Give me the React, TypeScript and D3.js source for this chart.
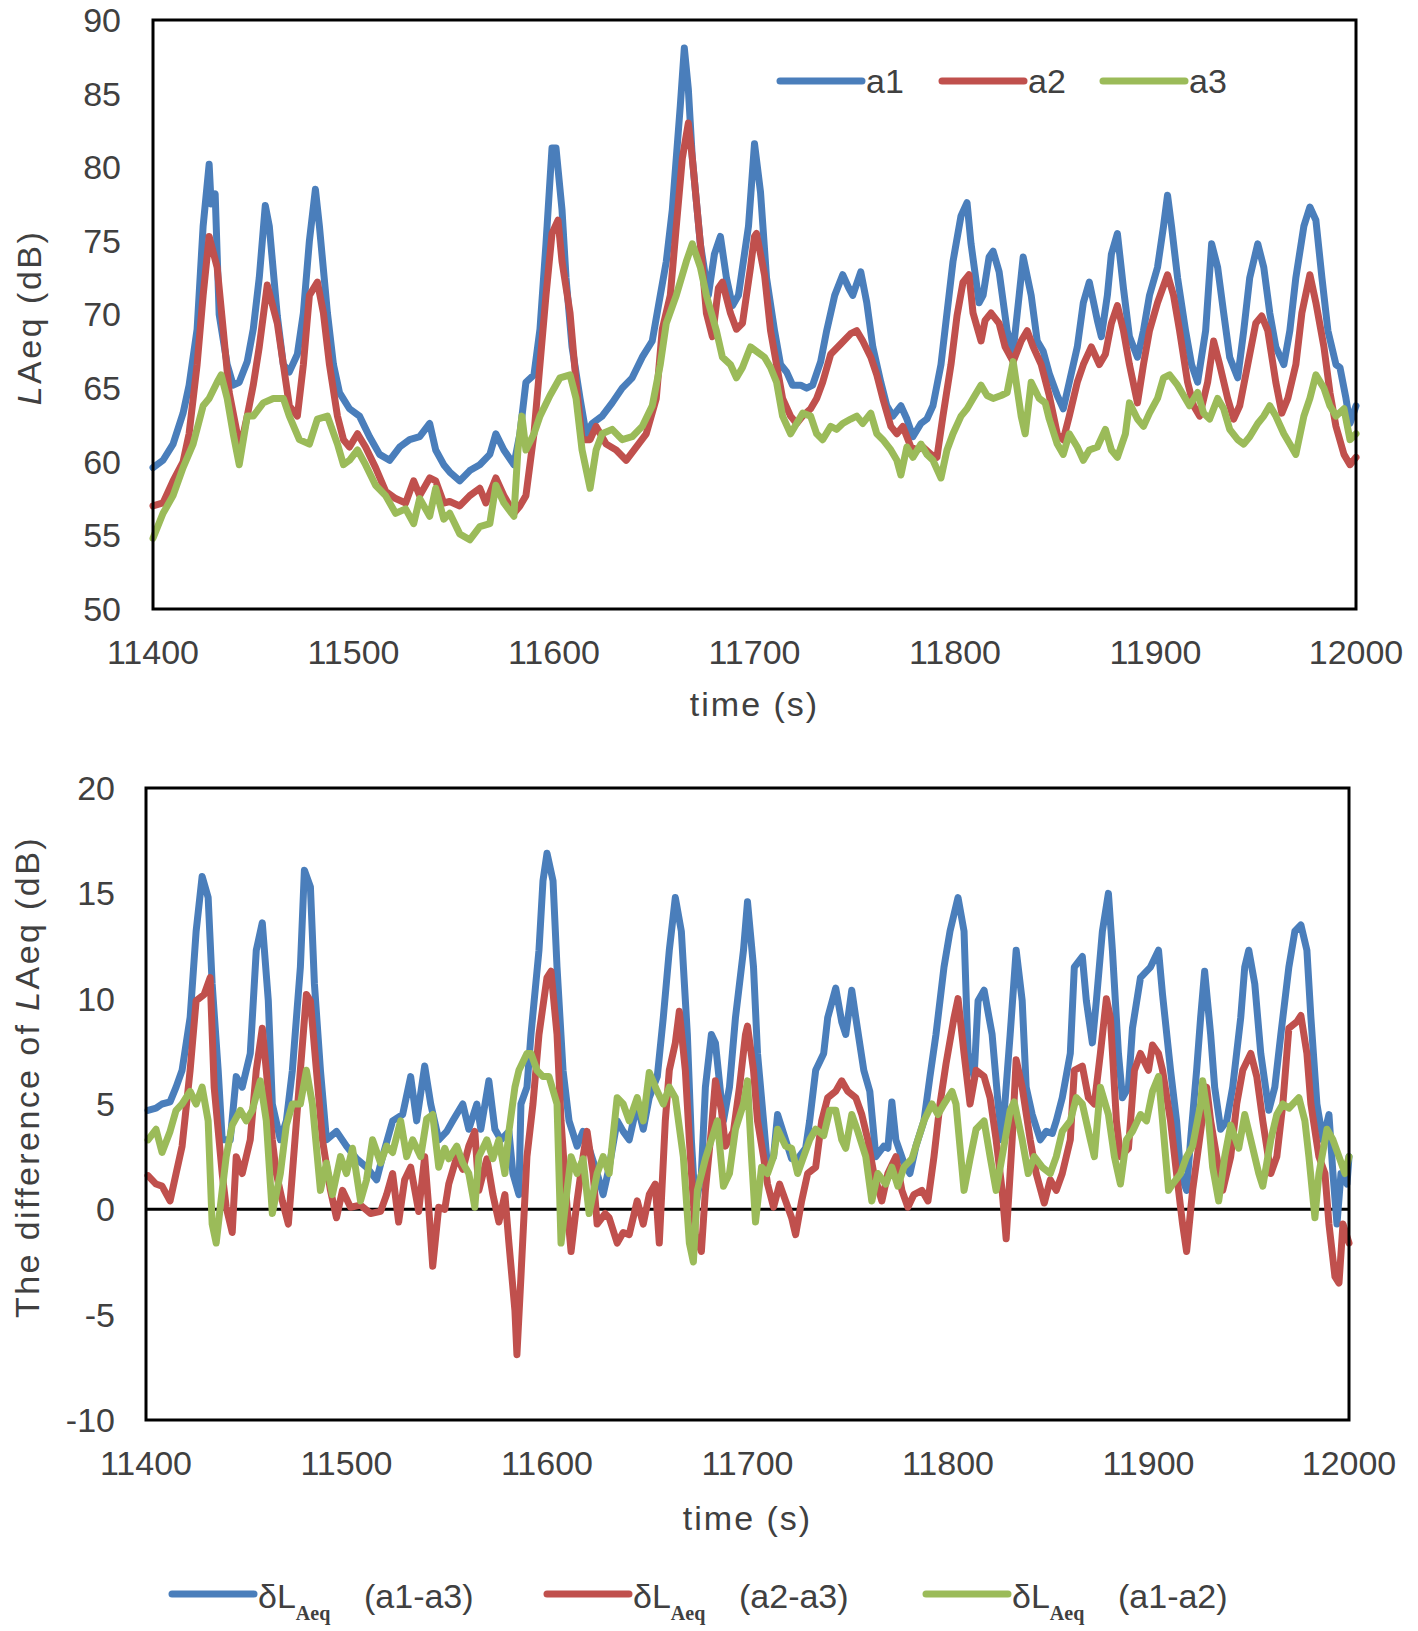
import React from "react";
import * as d3 from "d3";

// ---- data (time in s, level in dB) ----
const timeTicks = [11400, 11500, 11600, 11700, 11800, 11900, 12000];
const levelTicks = [50, 55, 60, 65, 70, 75, 80, 85, 90];
const diffTicks = [-10, -5, 0, 5, 10, 15, 20];

const a1: [number, number][] = [
  [11400, 59.6], [11405, 60.1], [11410, 61.2], [11415, 63.3], [11418, 65.2], [11422, 69], [11425, 76], [11428, 80.2],
  [11429, 77.5], [11431, 78.2], [11433, 70], [11437, 66.6], [11440, 65.2], [11443, 65.4], [11447, 66.8], [11450, 69],
  [11453, 72.5], [11456, 77.4], [11458, 76], [11462, 69.9], [11465, 66.6], [11468, 66.1], [11472, 67.3], [11475, 70.1],
  [11478, 75], [11481, 78.5], [11483, 76], [11487, 70.1], [11490, 66.6], [11493, 64.7], [11498, 63.6], [11503, 63.1],
  [11508, 61.7], [11513, 60.5], [11518, 60.1], [11523, 61], [11528, 61.5], [11533, 61.7], [11538, 62.6], [11541, 60.8],
  [11545, 59.8], [11548, 59.3], [11553, 58.7], [11558, 59.4], [11563, 59.8], [11568, 60.5], [11571, 61.9], [11575, 60.8],
  [11580, 59.8], [11583, 61.9], [11586, 65.4], [11590, 65.9], [11593, 69], [11596, 74.8], [11599, 81.3], [11601, 81.3],
  [11604, 77.1], [11606, 72.5], [11609, 67.8], [11613, 64.3], [11616, 61.9], [11619, 62.6], [11624, 63.1], [11629, 64],
  [11634, 65], [11639, 65.7], [11644, 67.1], [11649, 68.2], [11653, 71.3], [11656, 73.6], [11659, 77.1], [11663, 84.2],
  [11665, 88.1], [11667, 85.3], [11669, 80.6], [11673, 74.8], [11677, 71.3], [11680, 74.1], [11683, 75.3], [11686, 72.5],
  [11689, 70.6], [11692, 71.3], [11697, 76], [11700, 81.6], [11703, 78.3], [11706, 72.5], [11710, 68.9], [11713, 66.6],
  [11716, 66.1], [11719, 65.2], [11723, 65.2], [11726, 65], [11729, 65.2], [11733, 66.8], [11736, 68.9], [11740, 71.3],
  [11744, 72.7], [11747, 71.8], [11749, 71.3], [11753, 72.9], [11756, 70.8], [11759, 67.8], [11763, 65.4], [11766, 63.8],
  [11769, 63.1], [11773, 63.8], [11776, 62.9], [11779, 61.7], [11783, 62.6], [11786, 62.9], [11789, 63.8], [11793, 66.6],
  [11796, 70.1], [11799, 73.6], [11803, 76.7], [11806, 77.6], [11808, 74.8], [11812, 70.8], [11814, 71.3], [11817, 73.9],
  [11819, 74.3], [11822, 72.9], [11826, 68.9], [11829, 67.5], [11832, 71.3], [11834, 73.9], [11838, 71.3], [11841, 68.2],
  [11844, 67.5], [11847, 66], [11851, 64.5], [11854, 63.6], [11857, 65.4], [11861, 67.8], [11864, 70.8], [11867, 72.2],
  [11871, 69.6], [11873, 68.5], [11876, 71.3], [11878, 74.1], [11881, 75.5], [11884, 71.8], [11887, 68.5], [11891, 67.1],
  [11894, 68.9], [11897, 71.3], [11901, 73.2], [11904, 76], [11906, 78.1], [11908, 76], [11911, 72.5], [11915, 68.9],
  [11918, 66.6], [11921, 65.4], [11925, 68.9], [11928, 74.8], [11931, 73.2], [11934, 70.1], [11937, 67.1], [11941, 65.7],
  [11944, 68.9], [11947, 72.5], [11951, 74.8], [11954, 73.2], [11957, 70.1], [11960, 67.8], [11964, 66.6], [11967, 68.9],
  [11970, 72.5], [11974, 76], [11977, 77.3], [11980, 76.4], [11983, 72.5], [11986, 68.9], [11990, 66.6], [11992, 66.4],
  [11995, 64.3], [11997, 62.6], [12000, 63.8],
];

const a2: [number, number][] = [
  [11400, 57], [11405, 57.2], [11410, 58.7], [11415, 60], [11418, 61.9], [11422, 66.6], [11425, 71.3], [11428, 75.3],
  [11432, 73.2], [11435, 69], [11438, 64.7], [11442, 61.9], [11444, 61.2], [11447, 63.1], [11450, 65.2], [11453, 67.8],
  [11457, 72], [11462, 69.4], [11465, 66.6], [11468, 63.8], [11472, 63.1], [11475, 66.6], [11478, 71.3], [11482, 72.2],
  [11485, 70.1], [11488, 66.6], [11492, 63.1], [11495, 61.5], [11498, 61], [11502, 61.9], [11506, 61], [11511, 59.6],
  [11516, 58], [11521, 57.5], [11526, 57.2], [11530, 58.7], [11533, 57.7], [11538, 58.9], [11541, 58.7], [11545, 57.2],
  [11548, 57.3], [11553, 57], [11558, 57.7], [11563, 58.2], [11566, 57.2], [11571, 58.9], [11575, 57.7], [11580, 56.5],
  [11583, 57], [11586, 57.7], [11590, 61.9], [11593, 66.6], [11596, 71.3], [11599, 75.5], [11602, 76.4], [11604, 73.6],
  [11608, 70.1], [11611, 65.4], [11614, 61.5], [11618, 61.5], [11621, 62.4], [11626, 61.2], [11631, 60.8], [11636, 60.1],
  [11641, 61], [11646, 61.9], [11651, 64.3], [11654, 69], [11658, 71.3], [11661, 76], [11664, 80.6], [11667, 83],
  [11669, 80.6], [11673, 74.8], [11676, 70.1], [11679, 68.5], [11682, 71.8], [11684, 72.2], [11688, 70.1], [11691, 69],
  [11694, 69.4], [11698, 73.2], [11700, 75.3], [11701, 75.5], [11705, 72.7], [11708, 68.9], [11711, 66.6], [11714, 64.3],
  [11718, 63.1], [11721, 62.6], [11724, 63.1], [11728, 63.6], [11731, 64.3], [11734, 65.4], [11738, 67.3], [11743, 68],
  [11748, 68.7], [11751, 68.9], [11754, 68.2], [11758, 67.1], [11761, 65.9], [11764, 64.3], [11768, 62.4], [11771, 61.9],
  [11774, 62.4], [11778, 61], [11781, 60.8], [11784, 61], [11788, 60.5], [11791, 60.3], [11794, 63.1], [11798, 66.6],
  [11801, 69.9], [11804, 72.2], [11807, 72.7], [11809, 70.1], [11813, 68.2], [11815, 69.6], [11818, 70.1], [11822, 69.4],
  [11825, 67.8], [11829, 66.8], [11833, 68.2], [11836, 68.9], [11839, 67.8], [11843, 66.6], [11847, 64.5], [11851, 61.9],
  [11854, 61.5], [11857, 63.1], [11861, 65.4], [11864, 66.6], [11868, 67.8], [11872, 66.6], [11875, 67.3], [11878, 69.4],
  [11881, 70.6], [11884, 68.9], [11887, 66.6], [11891, 64], [11894, 66.6], [11897, 68.9], [11901, 70.8], [11906, 72.7],
  [11909, 71.3], [11912, 68.9], [11916, 65.4], [11919, 63.8], [11922, 63.1], [11926, 65.4], [11929, 68.2], [11932, 66.6],
  [11936, 64.3], [11939, 62.9], [11942, 63.8], [11946, 66.6], [11950, 69.4], [11953, 69.9], [11956, 68.9], [11960, 65.4],
  [11963, 63.3], [11966, 64.3], [11970, 66.6], [11973, 70.1], [11977, 72.7], [11980, 70.8], [11984, 67.8], [11987, 64.7],
  [11990, 62.4], [11994, 60.5], [11997, 59.8], [12000, 60.3],
];

const a3: [number, number][] = [
  [11400, 54.8], [11405, 56.5], [11410, 57.7], [11415, 59.6], [11420, 61.2], [11425, 63.8], [11428, 64.3], [11432, 65.4],
  [11434, 65.9], [11437, 64.3], [11440, 61.9], [11443, 59.8], [11447, 63.1], [11450, 63.1], [11455, 64], [11460, 64.3],
  [11465, 64.3], [11468, 63.1], [11473, 61.5], [11478, 61.2], [11482, 62.9], [11487, 63.1], [11492, 61.2], [11495, 59.8],
  [11498, 60.1], [11502, 60.8], [11506, 59.8], [11511, 58.4], [11516, 57.7], [11521, 56.5], [11526, 56.8], [11530, 55.8],
  [11533, 57.5], [11538, 56.3], [11541, 58.2], [11545, 56.1], [11548, 56.5], [11553, 55.1], [11558, 54.7], [11563, 55.6],
  [11568, 55.8], [11571, 58.4], [11575, 57.2], [11580, 56.3], [11582, 60.8], [11584, 63.1], [11586, 60.8], [11590, 61.9],
  [11593, 63.1], [11598, 64.5], [11603, 65.7], [11608, 65.9], [11611, 64.3], [11614, 60.8], [11618, 58.2], [11621, 60.8],
  [11624, 61.9], [11629, 62.2], [11634, 61.5], [11639, 61.7], [11644, 62.4], [11649, 63.8], [11653, 66.6], [11656, 69.4],
  [11661, 71.3], [11666, 73.6], [11669, 74.8], [11673, 73.2], [11676, 71.3], [11681, 68.9], [11684, 67.1], [11688, 66.6],
  [11691, 65.7], [11694, 66.4], [11698, 67.8], [11701, 67.5], [11705, 67.1], [11708, 66.4], [11711, 65.4], [11714, 63.1],
  [11718, 61.9], [11721, 62.6], [11724, 63.3], [11728, 63.1], [11731, 61.9], [11734, 61.5], [11738, 62.4], [11741, 62.2],
  [11744, 62.6], [11748, 62.9], [11751, 63.1], [11754, 62.6], [11758, 63.3], [11761, 61.9], [11764, 61.5], [11768, 60.8],
  [11771, 60.1], [11773, 59.1], [11776, 61], [11779, 60.3], [11783, 61.2], [11786, 60.5], [11789, 60.1], [11793, 58.9],
  [11796, 60.8], [11799, 61.9], [11803, 63.1], [11806, 63.6], [11809, 64.3], [11813, 65.2], [11816, 64.5], [11819, 64.3],
  [11823, 64.5], [11826, 64.7], [11829, 66.8], [11833, 63.1], [11835, 61.9], [11838, 65.4], [11842, 64.3], [11845, 64],
  [11847, 62.9], [11851, 61.2], [11854, 60.5], [11857, 61.9], [11861, 61], [11864, 60.1], [11867, 60.8], [11871, 61],
  [11875, 62.2], [11878, 60.8], [11881, 60.3], [11885, 61.9], [11887, 64], [11891, 62.9], [11894, 62.4], [11897, 63.3],
  [11901, 64.3], [11904, 65.7], [11907, 65.9], [11911, 65.2], [11914, 64.5], [11917, 63.8], [11921, 64.7], [11924, 63.3],
  [11927, 62.9], [11931, 64.3], [11934, 63.6], [11937, 62.2], [11941, 61.5], [11944, 61.2], [11947, 61.7], [11951, 62.6],
  [11954, 63.1], [11957, 63.8], [11960, 63.1], [11964, 61.9], [11967, 61.2], [11970, 60.5], [11974, 63.1], [11977, 64.3],
  [11980, 65.9], [11984, 65], [11987, 63.8], [11990, 63.1], [11994, 63.6], [11997, 61.5], [12000, 61.9],
];

// differences δLAeq
const d13: [number, number][] = [
  [11401, 4.7], [11405, 4.8], [11408, 5], [11412, 5.1], [11415, 5.8], [11418, 6.6], [11422, 9.1], [11425, 13.2],
  [11428, 15.8], [11431, 14.8], [11433, 10.7], [11436, 6.6], [11438, 3.3], [11442, 3.3], [11445, 6.3], [11448, 5.8],
  [11452, 7.4], [11455, 12.3], [11458, 13.6], [11461, 9.9], [11463, 5], [11467, 3.3], [11470, 4.2], [11473, 6.6],
  [11477, 11.5], [11479, 16.1], [11482, 15.3], [11484, 10.7], [11487, 6.6], [11490, 3.3], [11495, 3.7], [11500, 3],
  [11505, 2.4], [11510, 2], [11515, 1.4], [11518, 2.5], [11523, 4.2], [11528, 4.5], [11532, 6.3], [11535, 4.2],
  [11539, 6.8], [11542, 5], [11546, 3.3], [11550, 3.7], [11553, 4.2], [11558, 5], [11561, 3.8], [11565, 5],
  [11567, 3.8], [11571, 6.1], [11574, 3.8], [11577, 3.3], [11581, 3.7], [11583, 1.7], [11586, 0.7], [11587, 5],
  [11590, 5.8], [11592, 8.3], [11596, 12.3], [11598, 15.6], [11600, 16.9], [11603, 15.6], [11605, 11.5], [11608, 6.6],
  [11611, 4.2], [11615, 3], [11618, 3.7], [11621, 2.9], [11625, 1.7], [11628, 0.7], [11631, 2], [11635, 4.2],
  [11638, 3.7], [11641, 3.3], [11645, 5], [11648, 3.8], [11651, 5.3], [11655, 6.3], [11658, 9.1], [11661, 12.3],
  [11664, 14.8], [11667, 13.2], [11670, 8.3], [11672, 3.3], [11674, 0.1], [11677, 1.7], [11679, 5.8], [11682, 8.3],
  [11684, 7.9], [11688, 4.2], [11691, 5.8], [11694, 9.1], [11698, 12.3], [11700, 14.6], [11703, 11.5], [11705, 7.4],
  [11708, 4.2], [11710, 2], [11713, 2.5], [11715, 4.5], [11719, 3.3], [11722, 2.4], [11725, 2.4], [11729, 2.9],
  [11731, 4.2], [11734, 6.6], [11738, 7.4], [11740, 9.1], [11744, 10.5], [11747, 8.9], [11749, 8.3], [11752, 10.4],
  [11754, 9.1], [11758, 6.6], [11761, 5.6], [11764, 2.5], [11768, 3], [11770, 2.9], [11772, 5.1], [11774, 3.3],
  [11778, 2.2], [11781, 1.7], [11784, 3], [11788, 4.2], [11791, 6.3], [11794, 8.3], [11798, 11.5], [11801, 13.2],
  [11805, 14.8], [11808, 13.2], [11810, 7.4], [11813, 6.3], [11815, 9.9], [11818, 10.4], [11822, 8.3], [11825, 5],
  [11827, 3.3], [11831, 8.3], [11834, 12.3], [11837, 9.9], [11839, 5.8], [11842, 4.5], [11846, 3.3], [11849, 3.7],
  [11852, 3.6], [11854, 4.2], [11857, 5.3], [11861, 7.4], [11863, 11.5], [11867, 12], [11869, 9.9], [11872, 7.9],
  [11874, 9.9], [11877, 13.2], [11880, 15], [11882, 12.3], [11885, 7.4], [11887, 5.3], [11890, 5.8], [11892, 8.6],
  [11896, 11], [11898, 11.2], [11901, 11.5], [11905, 12.3], [11907, 10.2], [11911, 6.6], [11914, 4.2], [11916, 1.7],
  [11919, 0.9], [11921, 3.3], [11924, 6.6], [11926, 9.1], [11928, 11.3], [11931, 8.3], [11933, 5.8], [11936, 3.8],
  [11939, 4.2], [11942, 5.8], [11946, 9.1], [11948, 11.5], [11950, 12.3], [11953, 10.7], [11956, 7.4], [11960, 4.7],
  [11963, 5.8], [11966, 8.3], [11970, 11.5], [11973, 13.2], [11976, 13.5], [11979, 12.3], [11981, 9.1], [11984, 5],
  [11987, 3.3], [11990, 4.5], [11992, 1.7], [11994, -0.7], [11996, 1.7], [11999, 1.2], [12000, 2.5],
];

const d23: [number, number][] = [
  [11401, 1.6], [11405, 1.2], [11408, 1.1], [11412, 0.4], [11415, 1.7], [11418, 3], [11422, 6.6], [11425, 9.9],
  [11429, 10.2], [11432, 11], [11434, 5.8], [11438, 1.7], [11440, 0.1], [11443, -1.1], [11445, 2.5], [11448, 1.7],
  [11452, 3.3], [11455, 6.6], [11458, 8.6], [11460, 6.6], [11463, 3.3], [11465, 1.7], [11468, 0.4], [11471, -0.7],
  [11473, 1.7], [11477, 6.6], [11480, 10.2], [11482, 9.9], [11485, 6.6], [11488, 3.3], [11492, 0.9], [11495, -0.4],
  [11498, 0.9], [11502, 0.1], [11507, 0.2], [11512, -0.2], [11517, -0.1], [11520, 0.7], [11523, 1.7], [11526, -0.6],
  [11529, 1.4], [11532, 2], [11536, -0.1], [11539, 2.5], [11541, 0.1], [11543, -2.7], [11546, 0.1], [11549, 0],
  [11551, 1.2], [11555, 2.5], [11558, 1.9], [11561, 3], [11564, 3.7], [11566, 0.9], [11570, 2.4], [11573, 0.7],
  [11576, -0.6], [11579, 0.7], [11581, -1.6], [11584, -4.8], [11585, -6.9], [11587, -3.2], [11590, 2.5], [11593, 5],
  [11596, 8.3], [11600, 11], [11602, 11.3], [11605, 8.3], [11607, 4.2], [11610, 0.1], [11612, -2], [11615, 0.4],
  [11618, 2.5], [11620, 3.7], [11623, 1.7], [11625, -0.7], [11629, -0.2], [11631, -0.4], [11635, -1.6], [11638, -1.1],
  [11641, -1.2], [11645, 0.4], [11648, -0.7], [11651, 0.7], [11654, 1.2], [11656, -1.6], [11659, 4.2], [11661, 6.6],
  [11664, 7.9], [11666, 9.4], [11669, 6.6], [11671, 3.3], [11674, -1.2], [11677, -2], [11679, 0.9], [11682, 3.8],
  [11684, 6.1], [11687, 4.7], [11689, 3], [11693, 3.7], [11696, 5.8], [11699, 8.3], [11700, 8.7], [11703, 6.6],
  [11705, 4.2], [11708, 2.5], [11710, 1.2], [11713, 0.1], [11716, 1.2], [11719, 0.4], [11722, -0.4], [11724, -1.2],
  [11727, 0.4], [11730, 1.7], [11734, 2], [11737, 4.2], [11740, 5.3], [11744, 5.6], [11747, 6.1], [11750, 5.6],
  [11754, 5.3], [11757, 4.5], [11760, 3.3], [11763, 1.7], [11767, 0.4], [11770, 1.7], [11774, 2.5], [11777, 0.9],
  [11780, 0.1], [11783, 0.7], [11787, 0.9], [11790, 0.4], [11793, 2.5], [11796, 5], [11799, 6.9], [11803, 9.1],
  [11805, 10], [11808, 7.4], [11811, 5], [11814, 6.6], [11818, 6.3], [11821, 5.3], [11824, 3.3], [11827, 0.9],
  [11829, -1.4], [11832, 3.3], [11834, 7.1], [11837, 5.8], [11841, 3.3], [11844, 1.7], [11848, 0.3], [11851, 1.4],
  [11854, 0.9], [11857, 1.7], [11861, 3.3], [11863, 6.6], [11867, 6.8], [11870, 5.3], [11873, 5], [11876, 7.4],
  [11879, 10], [11881, 9.1], [11884, 4.2], [11886, 2.5], [11890, 2.9], [11893, 6.6], [11896, 7.4], [11900, 6.6],
  [11902, 7.8], [11905, 7.4], [11907, 6.6], [11911, 4.2], [11914, 1.7], [11917, -0.7], [11919, -2], [11922, 0.9],
  [11926, 3.7], [11929, 5.8], [11931, 4.2], [11934, 2.5], [11937, 0.9], [11941, 2.5], [11944, 5], [11947, 6.6],
  [11951, 7.4], [11954, 6.3], [11957, 4.2], [11961, 1.7], [11964, 2.5], [11967, 5], [11970, 8.6], [11974, 8.9],
  [11976, 9.2], [11979, 7.4], [11981, 5], [11985, 2.5], [11988, 1.7], [11990, -0.7], [11993, -3.2], [11995, -3.5],
  [11997, -0.7], [12000, -1.6],
];

const d12: [number, number][] = [
  [11401, 3.3], [11405, 3.8], [11408, 2.7], [11412, 3.7], [11415, 4.7], [11418, 5], [11422, 5.6], [11425, 5],
  [11428, 5.8], [11431, 4.2], [11433, -0.7], [11435, -1.6], [11438, 0.9], [11440, 2.5], [11443, 4], [11447, 4.7],
  [11450, 4.2], [11453, 4.7], [11457, 6.1], [11460, 4.2], [11463, -0.2], [11467, 1.7], [11470, 4], [11473, 5],
  [11477, 5], [11480, 6.6], [11483, 5], [11487, 0.9], [11490, 2.2], [11493, 0.7], [11497, 2.5], [11500, 1.7],
  [11503, 2.9], [11507, 0.4], [11510, 1.4], [11513, 3.3], [11517, 2.2], [11520, 3], [11523, 2.7], [11527, 4.2],
  [11530, 2.5], [11533, 3.3], [11537, 2.5], [11540, 4.3], [11543, 4.5], [11546, 2], [11549, 2.9], [11551, 2.4],
  [11555, 3], [11558, 2.2], [11561, 1.7], [11564, 0.1], [11566, 2.5], [11570, 3.3], [11573, 2.4], [11576, 3.3],
  [11579, 1.7], [11581, 3.7], [11584, 5.8], [11586, 6.6], [11590, 7.4], [11592, 7.4], [11595, 6.6], [11598, 6.3],
  [11601, 6.3], [11605, 5], [11607, -1.6], [11610, 0.9], [11612, 2.5], [11615, 1.7], [11618, 2.4], [11621, -0.2],
  [11625, 1.7], [11628, 2.5], [11631, 1.7], [11635, 5.3], [11638, 5], [11641, 4.2], [11645, 5.3], [11648, 4.2],
  [11651, 6.5], [11655, 5.6], [11658, 5], [11661, 5.8], [11664, 5.3], [11668, 2.5], [11671, -1.6], [11673, -2.5],
  [11675, 0.9], [11679, 2.4], [11682, 3.3], [11685, 4.2], [11688, 1.1], [11691, 1.7], [11694, 3.8], [11698, 5],
  [11700, 6.1], [11702, 2.5], [11704, -0.6], [11707, 2], [11710, 1.7], [11713, 2.5], [11715, 3.8], [11719, 3],
  [11722, 2.9], [11725, 1.7], [11728, 2.5], [11731, 3.3], [11734, 3.8], [11738, 3.5], [11741, 4.7], [11744, 4.7],
  [11747, 3.3], [11749, 2.9], [11752, 4.5], [11755, 3.7], [11759, 2.5], [11762, 0.4], [11765, 1.7], [11769, 1.2],
  [11772, 2], [11775, 1.1], [11778, 2], [11782, 2.4], [11785, 3.3], [11788, 4.2], [11792, 5], [11795, 4.5],
  [11798, 5], [11802, 5.6], [11804, 5], [11808, 0.9], [11811, 2.4], [11814, 3.8], [11818, 4.2], [11821, 2.5],
  [11824, 0.9], [11827, 2.5], [11831, 4.7], [11833, 5.1], [11837, 3.3], [11840, 1.7], [11843, 2.5], [11847, 2],
  [11851, 1.7], [11854, 2.5], [11857, 3.7], [11861, 4.2], [11864, 5.3], [11867, 5], [11871, 3.3], [11873, 2.5],
  [11876, 5.8], [11880, 4.5], [11883, 2.5], [11886, 1.2], [11889, 3.3], [11892, 3.7], [11896, 4.5], [11899, 4.2],
  [11902, 5.6], [11905, 6.3], [11907, 4.2], [11910, 0.9], [11912, 1.2], [11916, 1.7], [11919, 2.5], [11922, 3],
  [11926, 5], [11927, 6.1], [11930, 4.2], [11932, 2], [11935, 0.4], [11938, 2.5], [11941, 4], [11945, 2.9],
  [11948, 4.5], [11951, 3.3], [11955, 1.7], [11957, 1.1], [11961, 3.3], [11964, 4.5], [11967, 5], [11970, 4.8],
  [11975, 5.3], [11978, 4.2], [11980, 2.5], [11983, -0.4], [11985, 1.7], [11989, 3.8], [11992, 3.3], [11995, 2.5],
  [11998, 1.7], [12000, 2.5],
];

const BLUE = "#4A7EBB";
const RED = "#C0504D";
const GREEN = "#9BBB59";
const TEXT = "#404040";
const FONT = "'Liberation Sans', Arial, Helvetica, sans-serif";

const topSeries = [
  { name: "a1", data: a1, color: BLUE, lx: 780 },
  { name: "a2", data: a2, color: RED, lx: 942 },
  { name: "a3", data: a3, color: GREEN, lx: 1103 },
];

const diffSeries = [
  { name: "(a1-a3)", data: d13, color: BLUE, lx: 172 },
  { name: "(a2-a3)", data: d23, color: RED, lx: 547 },
  { name: "(a1-a2)", data: d12, color: GREEN, lx: 926 },
];

export default function App() {
  // top panel
  const xTop = d3.scaleLinear().domain([11400, 12000]).range([153, 1356]);
  const yTop = d3.scaleLinear().domain([50, 90]).range([609, 20]);
  // bottom panel
  const xBot = d3.scaleLinear().domain([11400, 12000]).range([146, 1349]);
  const yBot = d3.scaleLinear().domain([-10, 20]).range([1420, 788]);

  const lineTop = d3
    .line<[number, number]>()
    .x((d) => xTop(d[0]))
    .y((d) => yTop(d[1]));
  const lineBot = d3
    .line<[number, number]>()
    .x((d) => xBot(d[0]))
    .y((d) => yBot(d[1]));

  const [tx0, tx1] = xTop.range();
  const [ty1, ty0] = yTop.range();
  const [bx0, bx1] = xBot.range();
  const [by1, by0] = yBot.range();

  return (
    <svg
      width={1418}
      height={1631}
      style={{ position: "absolute", left: 0, top: 0, background: "#fff" }}
      fontFamily={FONT}
    >
      <rect width={1418} height={1631} fill="#fff" />

      {/* ---------- top panel ---------- */}
      {topSeries.map((s) => (
        <path
          key={s.name}
          d={lineTop(s.data) || ""}
          fill="none"
          stroke={s.color}
          strokeWidth={7}
          strokeLinejoin="round"
          strokeLinecap="round"
        />
      ))}
      <rect x={tx0} y={ty0} width={tx1 - tx0} height={ty1 - ty0} fill="none" stroke="#000" strokeWidth={3} />

      {levelTicks.map((v) => (
        <text key={v} x={121} y={yTop(v)} dy="0.35em" textAnchor="end" fontSize={34} fill={TEXT}>
          {v}
        </text>
      ))}
      {timeTicks.map((t) => (
        <text key={t} x={xTop(t)} y={652} dy="0.35em" textAnchor="middle" fontSize={34} fill={TEXT}>
          {t}
        </text>
      ))}
      <text x={(tx0 + tx1) / 2} y={704} dy="0.35em" textAnchor="middle" fontSize={34} letterSpacing={2} fill={TEXT}>
        time (s)
      </text>
      <text
        transform={`translate(29, ${(ty0 + ty1) / 2 + 3}) rotate(-90)`}
        dy="0.35em"
        textAnchor="middle"
        fontSize={34}
        letterSpacing={2.5}
        fill={TEXT}
      >
        <tspan fontStyle="italic">L</tspan>Aeq (dB)
      </text>

      {topSeries.map((s) => (
        <g key={s.name}>
          <line x1={s.lx} x2={s.lx + 82} y1={81} y2={81} stroke={s.color} strokeWidth={7} strokeLinecap="round" />
          <text x={s.lx + 86} y={81} dy="0.35em" fontSize={34} fill={TEXT}>
            {s.name}
          </text>
        </g>
      ))}

      {/* ---------- bottom panel ---------- */}
      <line x1={bx0} x2={bx1} y1={yBot(0)} y2={yBot(0)} stroke="#000" strokeWidth={3} />
      {diffSeries.map((s) => (
        <path
          key={s.name}
          d={lineBot(s.data) || ""}
          fill="none"
          stroke={s.color}
          strokeWidth={7}
          strokeLinejoin="round"
          strokeLinecap="round"
        />
      ))}
      <rect x={bx0} y={by0} width={bx1 - bx0} height={by1 - by0} fill="none" stroke="#000" strokeWidth={3} />

      {diffTicks.map((v) => (
        <text key={v} x={115} y={yBot(v)} dy="0.35em" textAnchor="end" fontSize={34} fill={TEXT}>
          {v}
        </text>
      ))}
      {timeTicks.map((t) => (
        <text key={t} x={xBot(t)} y={1463} dy="0.35em" textAnchor="middle" fontSize={34} fill={TEXT}>
          {t}
        </text>
      ))}
      <text x={(bx0 + bx1) / 2} y={1518} dy="0.35em" textAnchor="middle" fontSize={34} letterSpacing={2} fill={TEXT}>
        time (s)
      </text>
      <text
        transform={`translate(27, 1077) rotate(-90)`}
        dy="0.35em"
        textAnchor="middle"
        fontSize={34}
        letterSpacing={2.4}
        fill={TEXT}
      >
        The difference of <tspan fontStyle="italic">L</tspan>Aeq (dB)
      </text>

      {diffSeries.map((s) => (
        <g key={s.name}>
          <line x1={s.lx} x2={s.lx + 82} y1={1594} y2={1594} stroke={s.color} strokeWidth={7} strokeLinecap="round" />
          <text x={s.lx + 86} y={1608} fontSize={34} fill={TEXT}>
            δL
            <tspan fontFamily="'Liberation Serif', 'Times New Roman', serif" fontWeight="bold" fontSize={20} dy={12}>
              Aeq
            </tspan>
          </text>
          <text x={s.lx + 192} y={1608} fontSize={34} fill={TEXT}>
            {s.name}
          </text>
        </g>
      ))}
    </svg>
  );
}
